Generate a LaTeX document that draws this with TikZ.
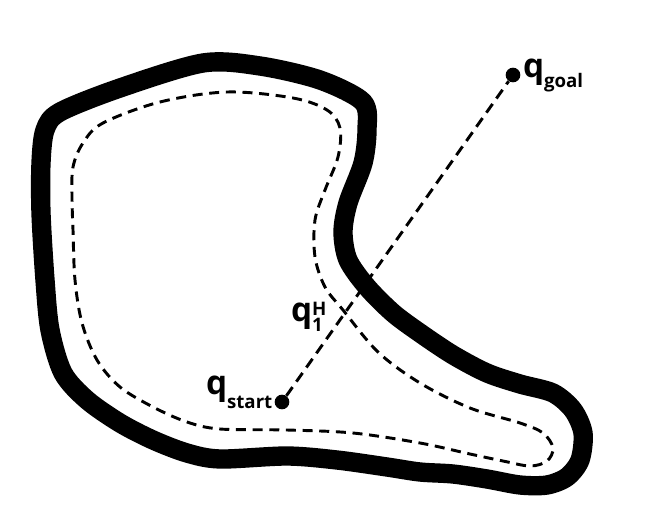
\documentclass[tikz,border=0pt]{standalone}
\usepackage{fontspec}
\setmainfont{Open Sans}
\begin{document}
\begin{tikzpicture}[x=0.75pt,y=-0.75pt,
  wall/.style={line width=14.5pt,line join=round},
  freepath/.style={line width=2.2pt,dash pattern=on 7.5pt off 5pt},
  conn/.style={line width=2.2pt,dash pattern=on 8pt off 5pt},
  dot/.style={circle,fill=black,inner sep=0pt,minimum size=11pt},
  lab/.style={anchor=base west,inner sep=0pt,outer sep=0pt}]
\useasboundingbox[fill=white] (0,0) rectangle (656,531);
\newcommand\bigq{{\fontsize{25}{25}\selectfont\bfseries q}}
\newcommand\subf{\fontsize{14}{14}\selectfont\bfseries}
% obstacle boundary
\draw[wall] plot[smooth cycle,tension=0.5] coordinates {
 (60,112) (120,88) (203,63) (260,66) (320,80) (363,102)
 (367,130) (363,163) (348,203) (343,232) (348,260) (367,287)
 (393,313) (420,333) (453,355) (487,373) (520,384) (553,393)
 (573,410) (583,433) (580,460) (567,477) (547,485) (520,485)
 (487,479) (453,474) (420,472) (387,467) (337,460) (287,456)
 (220,459) (187,453) (153,440) (120,423) (87,400) (63,373)
 (50,330) (45,280) (41,213) (41,163) (45,130)};
% dashed path along the boundary
\draw[freepath] plot[smooth cycle,tension=0.55] coordinates {
 (103,123) (160,102) (227,92) (293,98) (327,110) (340,128)
 (338,157) (325,190) (315,220) (315,257) (325,287) (343,310)
 (378,352) (420,383) (470,408) (520,423) (543,433) (553,448)
 (547,461) (530,466) (503,461) (470,454) (420,443) (353,433)
 (287,430) (220,429) (187,422) (153,407) (120,387) (97,360)
 (82,323) (75,280) (73,230) (72,197) (73,167) (83,143)};
% start and goal
\node[dot] (start) at (282,402) {};
\node[dot] (goal) at (513,75) {};
\draw[conn] (start) -- (goal);
\node[lab] (lstart) at (206,394) {\bigq\raisebox{-10.5pt}{\subf start}};
\node[lab] (lgoal) at (523,78) {\bigq\raisebox{-7.5pt}{\subf goal}};
\node[lab] (lhit) at (291,321) {\bigq\rlap{\raisebox{4.5pt}{\subf H}}\raisebox{-7.5pt}{\subf 1}};
\end{tikzpicture}
\end{document}
